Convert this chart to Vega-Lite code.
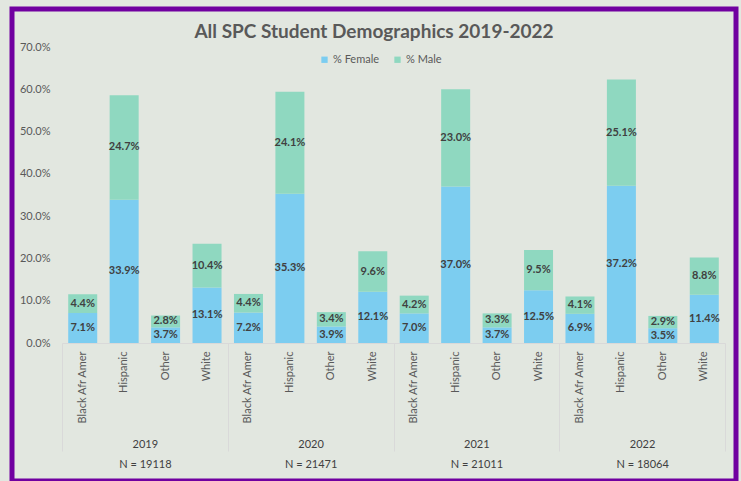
{
  "$schema": "https://vega.github.io/schema/vega-lite/v6.json",
  "autosize": {"type": "none"},
  "width": 724,
  "height": 472,
  "padding": {"left": 12, "top": 9, "right": 5, "bottom": 0},
  "background": "#e2e7e0",
  "config": {
    "font": "Lato",
    "view": {"stroke": "#7000a0", "strokeWidth": 5},
    "axis": {"grid": false, "title": null}
  },
  "title": {
    "text": "All SPC Student Demographics 2019-2022",
    "fontSize": 19,
    "fontWeight": "bold",
    "color": "#595959",
    "anchor": "middle",
    "frame": "group",
    "baseline": "middle",
    "offset": -42
  },
  "data": {
    "values": [
      {"key": "2019|Black Afr Amer", "period": "2019|N = 19118", "sex": "% Female", "pct": 0.071},
      {"key": "2019|Black Afr Amer", "period": "2019|N = 19118", "sex": "% Male", "pct": 0.044},
      {"key": "2019|Hispanic", "period": "2019|N = 19118", "sex": "% Female", "pct": 0.339},
      {"key": "2019|Hispanic", "period": "2019|N = 19118", "sex": "% Male", "pct": 0.247},
      {"key": "2019|Other", "period": "2019|N = 19118", "sex": "% Female", "pct": 0.037},
      {"key": "2019|Other", "period": "2019|N = 19118", "sex": "% Male", "pct": 0.028},
      {"key": "2019|White", "period": "2019|N = 19118", "sex": "% Female", "pct": 0.131},
      {"key": "2019|White", "period": "2019|N = 19118", "sex": "% Male", "pct": 0.104},
      {"key": "2020|Black Afr Amer", "period": "2020|N = 21471", "sex": "% Female", "pct": 0.072},
      {"key": "2020|Black Afr Amer", "period": "2020|N = 21471", "sex": "% Male", "pct": 0.044},
      {"key": "2020|Hispanic", "period": "2020|N = 21471", "sex": "% Female", "pct": 0.353},
      {"key": "2020|Hispanic", "period": "2020|N = 21471", "sex": "% Male", "pct": 0.241},
      {"key": "2020|Other", "period": "2020|N = 21471", "sex": "% Female", "pct": 0.039},
      {"key": "2020|Other", "period": "2020|N = 21471", "sex": "% Male", "pct": 0.034},
      {"key": "2020|White", "period": "2020|N = 21471", "sex": "% Female", "pct": 0.121},
      {"key": "2020|White", "period": "2020|N = 21471", "sex": "% Male", "pct": 0.096},
      {"key": "2021|Black Afr Amer", "period": "2021|N = 21011", "sex": "% Female", "pct": 0.070},
      {"key": "2021|Black Afr Amer", "period": "2021|N = 21011", "sex": "% Male", "pct": 0.042},
      {"key": "2021|Hispanic", "period": "2021|N = 21011", "sex": "% Female", "pct": 0.370},
      {"key": "2021|Hispanic", "period": "2021|N = 21011", "sex": "% Male", "pct": 0.230},
      {"key": "2021|Other", "period": "2021|N = 21011", "sex": "% Female", "pct": 0.037},
      {"key": "2021|Other", "period": "2021|N = 21011", "sex": "% Male", "pct": 0.033},
      {"key": "2021|White", "period": "2021|N = 21011", "sex": "% Female", "pct": 0.125},
      {"key": "2021|White", "period": "2021|N = 21011", "sex": "% Male", "pct": 0.095},
      {"key": "2022|Black Afr Amer", "period": "2022|N = 18064", "sex": "% Female", "pct": 0.069},
      {"key": "2022|Black Afr Amer", "period": "2022|N = 18064", "sex": "% Male", "pct": 0.041},
      {"key": "2022|Hispanic", "period": "2022|N = 18064", "sex": "% Female", "pct": 0.372},
      {"key": "2022|Hispanic", "period": "2022|N = 18064", "sex": "% Male", "pct": 0.251},
      {"key": "2022|Other", "period": "2022|N = 18064", "sex": "% Female", "pct": 0.035},
      {"key": "2022|Other", "period": "2022|N = 18064", "sex": "% Male", "pct": 0.029},
      {"key": "2022|White", "period": "2022|N = 18064", "sex": "% Female", "pct": 0.114},
      {"key": "2022|White", "period": "2022|N = 18064", "sex": "% Male", "pct": 0.088}
    ]
  },
  "layer": [
    {
      "layer": [
        {
          "mark": {"type": "bar"},
          "encoding": {
            "x": {
              "field": "key", "type": "nominal", "sort": "ascending",
              "scale": {"range": [50, 713], "paddingInner": 0.3, "paddingOuter": 0.15},
              "axis": {
                "orient": "bottom", "offset": -138, "labelAngle": 270,
                "labelExpr": "split(datum.value, '|')[1]",
                "labelPadding": 8, "ticks": false, "domainColor": "#d9d9d9",
                "labelColor": "#595959", "labelFontSize": 11, "labelOverlap": false, "title": null
              }
            },
            "y": {
              "field": "pct", "type": "quantitative", "stack": "zero",
              "scale": {"domain": [0, 0.7], "range": [334, 38], "nice": false, "zero": false},
              "axis": {
                "values": [0, 0.1, 0.2, 0.3, 0.4, 0.5, 0.6, 0.7], "format": ".1%",
                "domain": false, "ticks": false, "offset": -40, "labelPadding": 2,
                "labelColor": "#595959", "labelFontSize": 11, "title": null
              }
            },
            "color": {
              "field": "sex", "type": "nominal",
              "scale": {"domain": ["% Female", "% Male"], "range": ["#7ccdf0", "#8fd8c0"]},
              "legend": {
                "orient": "none", "legendX": 307, "legendY": 45, "direction": "horizontal",
                "title": null, "symbolType": "square", "symbolSize": 40, "symbolStrokeWidth": 0,
                "labelFontSize": 11, "labelColor": "#595959", "labelOffset": 3, "columnPadding": 12
              }
            },
            "order": {"field": "sex"}
          }
        },
        {
          "transform": [
            {"stack": "pct", "groupby": ["key"], "sort": [{"field": "sex"}], "as": ["y0", "y1"]},
            {"calculate": "(datum.y0 + datum.y1) / 2", "as": "mid"}
          ],
          "mark": {"type": "text", "fontWeight": "bold", "fontSize": 11, "color": "#404040", "baseline": "middle"},
          "encoding": {
            "x": {"field": "key", "type": "nominal", "sort": "ascending"},
            "y": {"field": "mid", "type": "quantitative"},
            "text": {"field": "pct", "type": "quantitative", "format": ".1%"}
          }
        }
      ]
    },
    {
      "mark": {"type": "text", "opacity": 0},
      "encoding": {
        "x": {
          "field": "period", "type": "nominal", "sort": "ascending",
          "scale": {"range": [50, 713], "paddingInner": 0, "paddingOuter": 0},
          "axis": {
            "orient": "bottom", "offset": -138, "domain": false, "ticks": true,
            "tickBand": "extent", "tickSize": 108, "tickColor": "#d9d9d9",
            "labelExpr": "isString(datum.value) ? split(datum.value, '|') : ''", "labelLineHeight": 20,
            "labelPadding": -13, "labelBaseline": "top", "labelAngle": 0,
            "labelFontSize": 11, "labelColor": "#404040", "labelOverlap": false, "title": null
          }
        },
        "text": {"value": ""}
      }
    }
  ],
  "resolve": {"scale": {"x": "independent"}, "axis": {"x": "independent"}}
}
